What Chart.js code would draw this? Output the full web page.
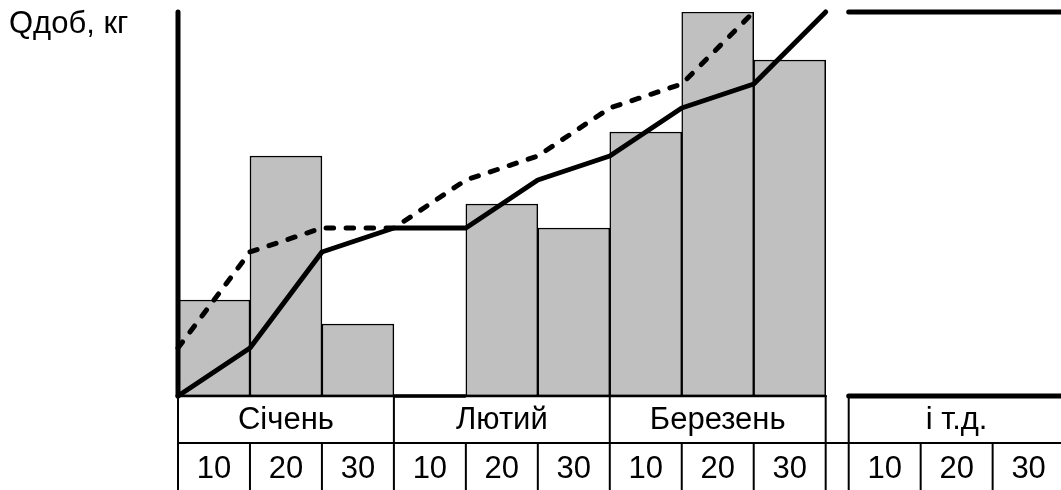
<!DOCTYPE html>
<html>
<head>
<meta charset="utf-8">
<script src="https://cdn.jsdelivr.net/npm/chart.js@4"></script>
<style>
    html, body { margin: 0; padding: 0; background: #fff; }
    #wrap { width: 1061px; height: 490px; }
</style>
</head>
<body>
<div id="wrap"><canvas id="qChart"></canvas></div>
<script>
const axisTitle = 'Qдоб, кг';
const months = ['Січень', 'Лютий', 'Березень'];
const extraLabel = 'і т.д.';
const decades = ['10', '20', '30'];

// daily supply per decade (bars), cumulative curve and the curve shifted one decade ahead
const supplyValues = [4, 10, 3, 0, 8, 7, 11, 16, 14];
const cumulative = [0, 2, 6, 7, 7, 9, 10, 12, 13, 16];
const cumulativeAhead = [2, 6, 7, 7, 9, 10, 12, 13, 16];
const limitLevel = 16;
const gapStart = 9.32;
const xMax = 12.27;

const FONT = '31px "Liberation Sans", Arial, sans-serif';

const tablePlugin = {
    id: 'decadeTable',
    afterDraw(chart) {
        const ctx = chart.ctx;
        const xs = chart.scales.x;
        const px = v => xs.getPixelForValue(v);
        const top = chart.chartArea.bottom;
        const mid = top + 47;
        const end = chart.height;

        ctx.save();
        ctx.strokeStyle = '#000';
        ctx.lineWidth = 2;
        const line = (x1, y1, x2, y2) => {
            ctx.beginPath();
            ctx.moveTo(x1, y1);
            ctx.lineTo(x2, y2);
            ctx.stroke();
        };

        line(px(0), mid, chart.width, mid);

        // month columns
        const monthEdges = months.map((m, i) => i * 3).concat([months.length * 3, gapStart]);
        monthEdges.forEach(v => line(px(v), top, px(v), end));
        months.forEach((m, i) => {
            for (let d = 1; d < decades.length; d++) {
                line(px(i * 3 + d), mid, px(i * 3 + d), end);
            }
        });
        for (let d = 1; d < decades.length; d++) {
            line(px(gapStart + d), mid, px(gapStart + d), end);
        }

        ctx.fillStyle = '#000';
        ctx.font = FONT;
        ctx.textAlign = 'center';
        ctx.textBaseline = 'alphabetic';
        months.forEach((m, i) => {
            ctx.fillText(m, px(i * 3 + 1.5), top + 33);
            decades.forEach((d, j) => ctx.fillText(d, px(i * 3 + j + 0.5), top + 82));
        });
        ctx.fillText(extraLabel, px(gapStart + 1.5), top + 33);
        decades.forEach((d, j) => ctx.fillText(d, px(gapStart + j + 0.5), top + 82));

        ctx.textAlign = 'left';
        ctx.fillText(axisTitle, 9, 33);
        ctx.restore();
    }
};

const zeroSegments = [];
supplyValues.forEach((v, i) => {
    if (v === 0) {
        zeroSegments.push({ x: i, y: 0 }, { x: i + 1, y: 0 }, { x: i + 1, y: null });
    }
});

const ctx = document.getElementById('qChart').getContext('2d');
new Chart(ctx, {
    type: 'line',
    data: {
        datasets: [
            {
                type: 'line',
                data: cumulative.map((v, i) => ({ x: i, y: v })),
                borderColor: '#000',
                borderWidth: 5,
                borderJoinStyle: 'round',
                borderCapStyle: 'round',
                clip: false,
                order: 0
            },
            {
                type: 'line',
                data: cumulativeAhead.map((v, i) => ({ x: i, y: v })),
                borderColor: '#000',
                borderWidth: 5,
                borderDash: [7.5, 12.5],
                borderCapStyle: 'round',
                borderJoinStyle: 'round',
                clip: false,
                order: 0
            },
            {
                type: 'line',
                data: [{ x: 0, y: 0 }, { x: 0, y: limitLevel }],
                borderColor: '#000',
                borderWidth: 5,
                borderCapStyle: 'round',
                clip: false,
                order: 0
            },
            {
                type: 'line',
                data: [{ x: gapStart, y: limitLevel }, { x: xMax + 1, y: limitLevel }],
                borderColor: '#000',
                borderWidth: 5,
                borderCapStyle: 'round',
                clip: false,
                order: 0
            },
            {
                type: 'line',
                data: [{ x: gapStart, y: 0 }, { x: xMax + 1, y: 0 }],
                borderColor: '#000',
                borderWidth: 5,
                borderCapStyle: 'round',
                clip: false,
                order: 0
            },
            {
                type: 'line',
                data: zeroSegments,
                borderColor: '#000',
                borderWidth: 3.5,
                spanGaps: false,
                clip: false,
                order: 1
            },
            {
                type: 'line',
                data: [{ x: 0, y: 0 }, { x: supplyValues.length, y: 0 }],
                borderColor: '#000',
                borderWidth: 2.5,
                borderCapStyle: 'round',
                clip: false,
                order: 1
            },
            {
                type: 'bar',
                data: supplyValues.map((v, i) => ({ x: i + 0.5, y: v })),
                backgroundColor: '#c0c0c0',
                borderColor: '#000',
                borderWidth: 1.5,
                borderSkipped: false,
                barPercentage: 1,
                categoryPercentage: 1,
                order: 2
            }
        ]
    },
    options: {
        responsive: true,
        maintainAspectRatio: false,
        animation: false,
        layout: { padding: { left: 178, top: 12, right: 0, bottom: 94 } },
        elements: { point: { radius: 0 }, line: { tension: 0 } },
        plugins: {
            legend: { display: false },
            tooltip: { enabled: false }
        },
        scales: {
            x: { type: 'linear', min: 0, max: xMax, offset: false, display: false },
            y: { min: 0, max: limitLevel, display: false }
        }
    },
    plugins: [tablePlugin]
});
</script>
</body>
</html>
